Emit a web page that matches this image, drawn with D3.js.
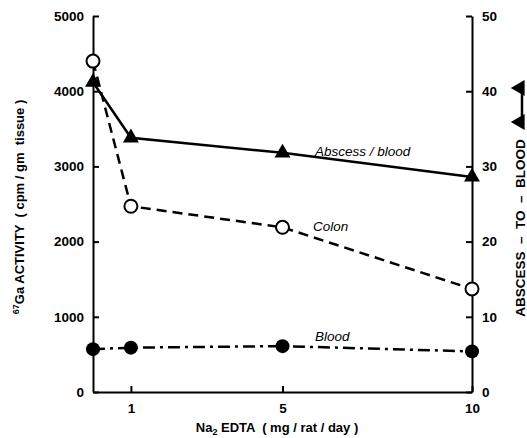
<!DOCTYPE html>
<html>
<head>
<meta charset="utf-8">
<script src="https://cdn.jsdelivr.net/npm/d3@7"></script>
<style>
  body { margin: 0; background: #fff; }
  svg { display: block; }
  .axis path, .axis line { stroke: #000; stroke-width: 2; }
  .axis text { font-family: "Liberation Sans", Arial, sans-serif; font-weight: bold; font-size: 13.5px; fill: #000; }
</style>
</head>
<body>
<svg width="527" height="438"></svg>
<script>
// dose of Na2 EDTA (mg/rat/day), 0 = control
var doses = [0, 1, 5, 10];
// 67Ga activity, cpm / gm tissue (left axis)
var colon = [4400, 2470, 2190, 1370];
var blood = [570, 590, 610, 540];
// abscess-to-blood ratio (right axis)
var abscessBlood = [41.2, 33.8, 31.8, 28.6];

var xTicks = [1, 5, 10];
var leftTicks = [0, 1000, 2000, 3000, 4000, 5000];
var rightTicks = [0, 10, 20, 30, 40, 50];

var svg = d3.select("svg");
var font = "'Liberation Sans', Arial, sans-serif";

var x = d3.scaleLinear().domain([0, 10]).range([93, 472]);
var yL = d3.scaleLinear().domain([0, 5000]).range([392, 16]);
var yR = d3.scaleLinear().domain([0, 50]).range([392, 16]);

// axes
svg.append("g")
    .attr("class", "axis")
    .attr("transform", "translate(93,0)")
    .call(d3.axisLeft(yL).tickValues(leftTicks).tickSizeInner(-6).tickSizeOuter(0).tickPadding(9).tickFormat(d3.format("d")));

svg.append("g")
    .attr("class", "axis")
    .attr("transform", "translate(472,0)")
    .call(d3.axisRight(yR).tickValues(rightTicks).tickSizeInner(-6).tickSizeOuter(0).tickPadding(10));

svg.append("g")
    .attr("class", "axis")
    .attr("transform", "translate(0,392)")
    .call(d3.axisBottom(x).tickValues(xTicks).tickSizeInner(-6).tickSizeOuter(0).tickPadding(11));

// lines
var pts = function (vals) { return doses.map(function (d, i) { return [d, vals[i]]; }); };

var lineL = d3.line().x(function (d) { return x(d[0]); }).y(function (d) { return yL(d[1]); });
var lineR = d3.line().x(function (d) { return x(d[0]); }).y(function (d) { return yR(d[1]); });

svg.append("path")
    .attr("d", lineR(pts(abscessBlood)))
    .attr("fill", "none").attr("stroke", "#000").attr("stroke-width", 2.5);

svg.append("path")
    .attr("d", lineL(pts(colon)))
    .attr("fill", "none").attr("stroke", "#000").attr("stroke-width", 2.5)
    .attr("stroke-dasharray", "10,6");

svg.append("path")
    .attr("d", lineL(pts(blood)))
    .attr("fill", "none").attr("stroke", "#000").attr("stroke-width", 2.5)
    .attr("stroke-dasharray", "12,5,3,5");

// markers
var tri = d3.symbol().type(d3.symbolTriangle).size(110);

svg.append("g").selectAll("path")
    .data(pts(abscessBlood))
    .enter().append("path")
    .attr("d", tri)
    .attr("transform", function (d) { return "translate(" + x(d[0]) + "," + yR(d[1]) + ")"; })
    .attr("fill", "#000");

svg.append("g").selectAll("circle")
    .data(pts(blood))
    .enter().append("circle")
    .attr("cx", function (d) { return x(d[0]); })
    .attr("cy", function (d) { return yL(d[1]); })
    .attr("r", 7)
    .attr("fill", "#000");

svg.append("g").selectAll("circle")
    .data(pts(colon))
    .enter().append("circle")
    .attr("cx", function (d) { return x(d[0]); })
    .attr("cy", function (d) { return yL(d[1]); })
    .attr("r", 6.5)
    .attr("fill", "#fff").attr("stroke", "#000").attr("stroke-width", 2);

// series labels
var labels = [
    { t: "Abscess / blood", x: 315, y: 156 },
    { t: "Colon", x: 313, y: 231 },
    { t: "Blood", x: 315, y: 341 }
];
svg.append("g").selectAll("text")
    .data(labels)
    .enter().append("text")
    .attr("x", function (d) { return d.x; })
    .attr("y", function (d) { return d.y; })
    .attr("font-family", font)
    .attr("font-style", "italic")
    .attr("font-size", 13.5)
    .text(function (d) { return d.t; });

// left title
var lt = svg.append("text")
    .attr("transform", "translate(24,207) rotate(-90)")
    .attr("text-anchor", "middle")
    .attr("dy", "0.35em")
    .attr("font-family", font).attr("font-weight", "bold").attr("font-size", 13)
    .style("white-space", "pre");
lt.append("tspan").attr("font-size", 9).attr("dy", -5).text("67");
lt.append("tspan").attr("dy", 5).text("Ga ACTIVITY  ( cpm / gm  tissue )");

// bottom title
var bt = svg.append("text")
    .attr("x", 277).attr("y", 432)
    .attr("text-anchor", "middle")
    .attr("font-family", font).attr("font-weight", "bold").attr("font-size", 13)
    .style("white-space", "pre");
bt.append("tspan").text("Na");
bt.append("tspan").attr("font-size", 9).attr("dy", 3).text("2");
bt.append("tspan").attr("dy", -3).text(" EDTA  ( mg / rat / day )");

// right title with legend sample
var rt = svg.append("g").attr("transform", "translate(520,228) rotate(-90)");
rt.append("text")
    .attr("text-anchor", "middle")
    .attr("dy", "0.35em")
    .attr("font-family", font).attr("font-weight", "bold").attr("font-size", 13.5)
    .style("white-space", "pre")
    .text("ABSCESS  –  TO  –  BLOOD");
rt.append("line")
    .attr("x1", 106).attr("x2", 140).attr("y1", 2).attr("y2", 2)
    .attr("stroke", "#000").attr("stroke-width", 2.5);
rt.selectAll("path.m")
    .data([106, 140])
    .enter().append("path")
    .attr("class", "m")
    .attr("d", tri)
    .attr("transform", function (d) { return "translate(" + d + ",0)"; })
    .attr("fill", "#000");
</script>
</body>
</html>
